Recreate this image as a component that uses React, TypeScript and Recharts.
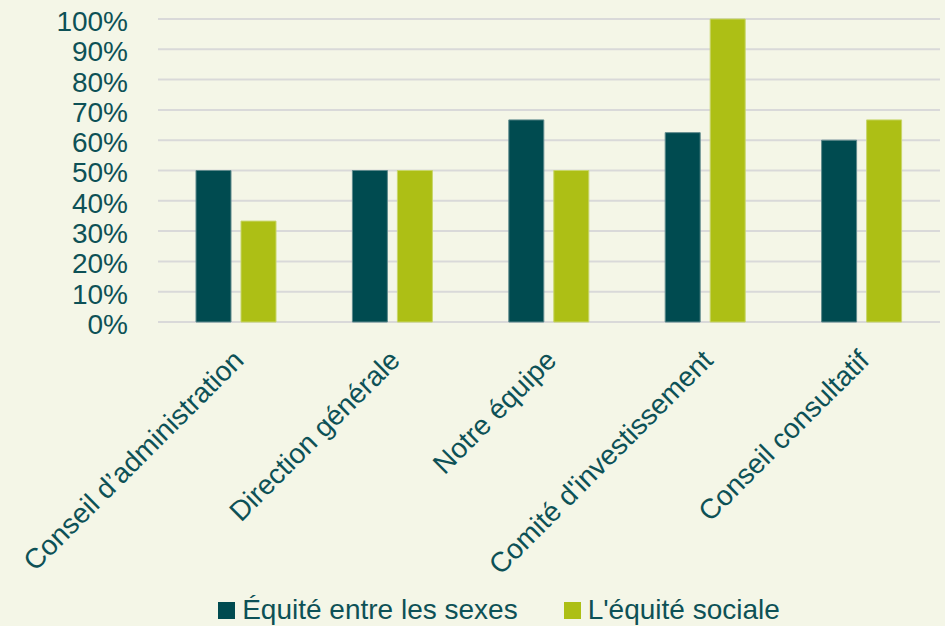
import React from 'react';
import { BarChart, Bar, XAxis, YAxis, CartesianGrid, Legend } from 'recharts';

const categories = ['Conseil d\u2019administration', 'Direction générale', 'Notre équipe', 'Comité d\'investissement', 'Conseil consultatif'];
const genderEquity = [50, 50, 66.7, 62.5, 60];
const socialEquity = [33.3, 50, 50, 100, 66.7];
const yTicks = [0, 10, 20, 30, 40, 50, 60, 70, 80, 90, 100];
const seriesNames = ['Équité entre les sexes', 'L\'équité sociale'];

const data = categories.map((c, i) => ({ name: c, gender: genderEquity[i], social: socialEquity[i] }));

const TEXT = '#0d5156';
const DARK = '#004b50';
const LIME = '#adbf15';
const BG = '#f4f6e7';
const FONT = '"Liberation Sans", Arial, sans-serif';

const XTick = (props: any) => {
  const { x, payload } = props;
  const ax = x + 9;
  const ay = 362;
  return (
    <text x={ax} y={ay} textAnchor="end" fill={TEXT} fontSize={28} fontFamily={FONT}
      transform={`rotate(-45 ${ax} ${ay})`}>{payload.value}</text>
  );
};

const LegendContent = () => (
  <div style={{ display: 'flex', justifyContent: 'center', fontFamily: FONT, fontSize: 28, color: TEXT, lineHeight: '32px', paddingLeft: 58 }}>
    {seriesNames.map((n, i) => (
      <div key={n} style={{ display: 'flex', alignItems: 'center', marginLeft: i ? 46 : 0 }}>
        <span style={{ width: 17, height: 17, background: i ? LIME : DARK, display: 'inline-block', marginRight: 7 }} />
        <span>{n}</span>
      </div>
    ))}
  </div>
);

export default function App() {
  return (
    <div style={{ position: 'absolute', left: 0, top: 0, width: 945, height: 626, background: BG }}>
      <BarChart width={945} height={626} data={data}
        margin={{ top: 19, right: 5, bottom: 0, left: 0 }} barGap={10} barCategoryGap={38}>
        <CartesianGrid vertical={false} stroke="#d9d9d9" strokeWidth={2} />
        <XAxis dataKey="name" axisLine={false} tickLine={false} height={272} interval={0} tick={<XTick />} />
        <YAxis width={158} domain={[0, 100]} ticks={yTicks} interval={0} axisLine={false} tickLine={false} tickSize={0} tickMargin={30}
          tickFormatter={(v: number) => `${v}%`}
          tick={{ fill: TEXT, fontSize: 28, fontFamily: FONT, dy: 2 }} />
        <Legend verticalAlign="bottom" content={<LegendContent />} wrapperStyle={{ bottom: 0 }} />
        <Bar dataKey="gender" fill={DARK} stroke="#5f8a8c" strokeWidth={1} isAnimationActive={false} />
        <Bar dataKey="social" fill={LIME} stroke="#c8d66a" strokeWidth={1} isAnimationActive={false} />
      </BarChart>
    </div>
  );
}
